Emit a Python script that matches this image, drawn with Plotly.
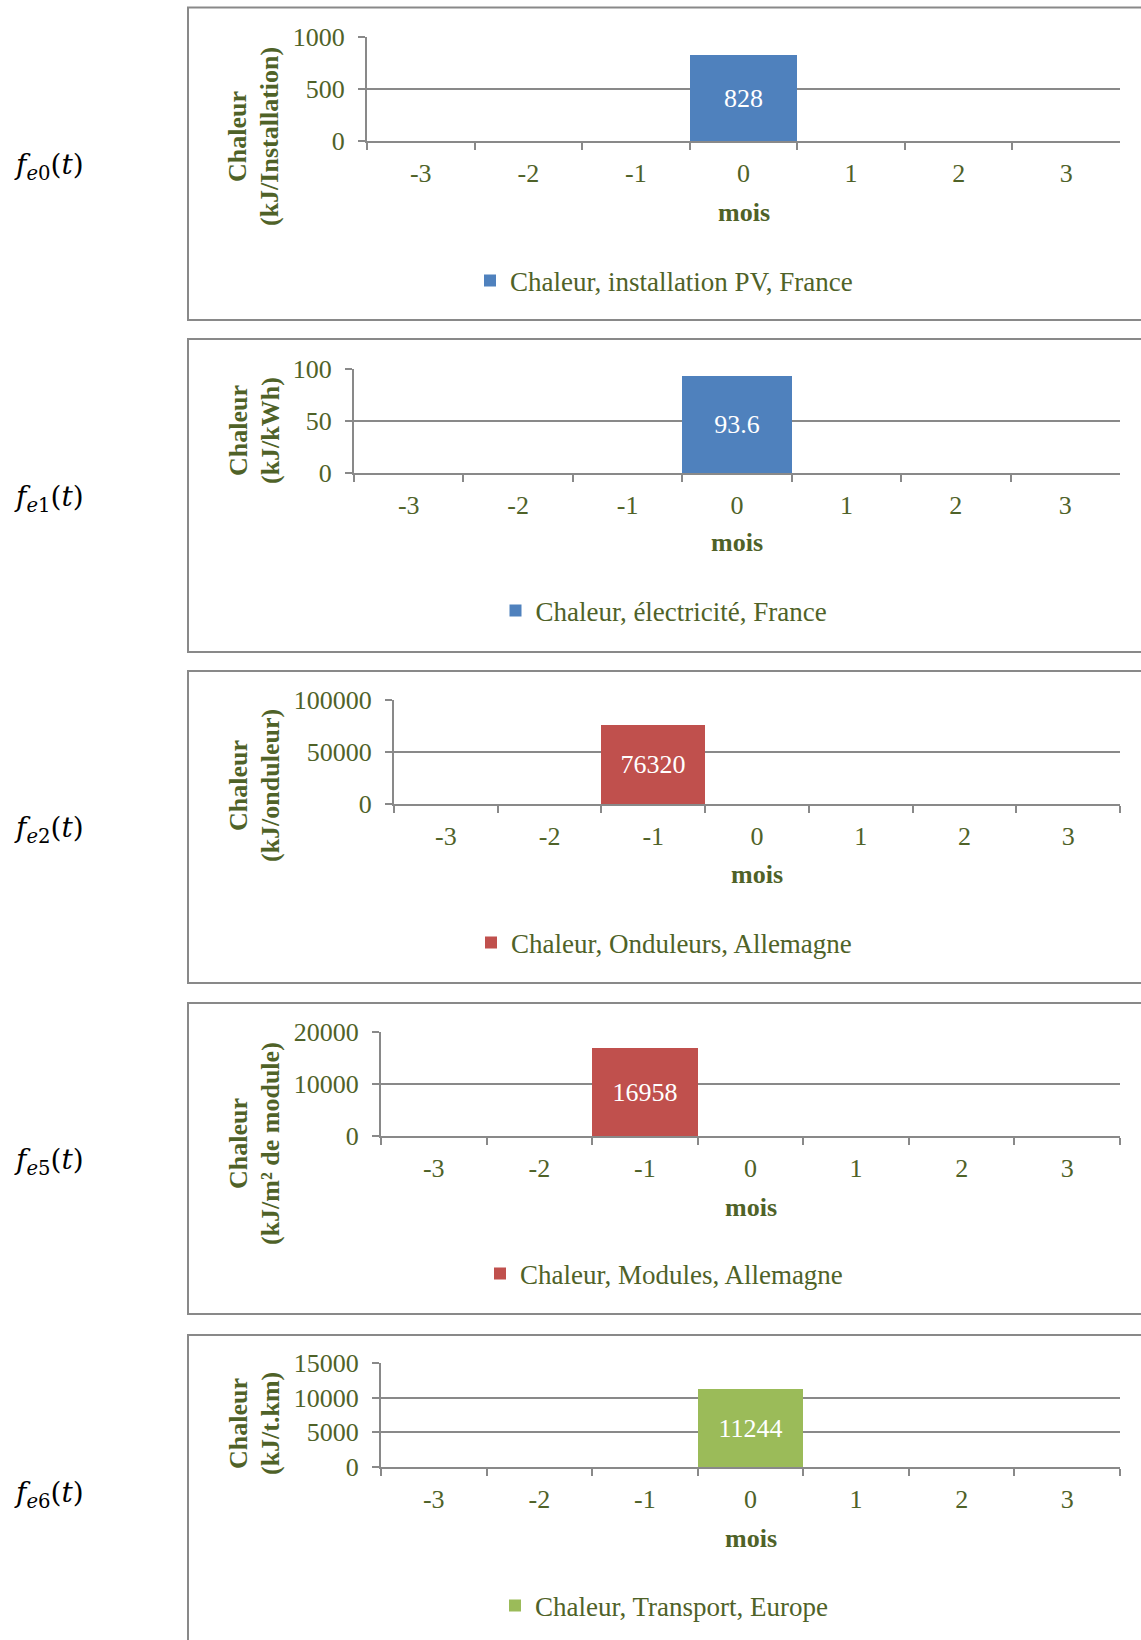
import plotly.graph_objects as go

W, H = 1141, 1640

# ---- data ----
mois = ["-3", "-2", "-1", "0", "1", "2", "3"]
serie_e0 = [None, None, None, 828, None, None, None]
serie_e1 = [None, None, None, 93.6, None, None, None]
serie_e2 = [None, None, 76320, None, None, None, None]
serie_e5 = [None, None, 16958, None, None, None, None]
serie_e6 = [None, None, None, 11244, None, None, None]
series = [serie_e0, serie_e1, serie_e2, serie_e5, serie_e6]
noms = ["Chaleur, installation PV, France",
        "Chaleur, électricité, France",
        "Chaleur, Onduleurs, Allemagne",
        "Chaleur, Modules, Allemagne",
        "Chaleur, Transport, Europe"]
unites = ["(kJ/Installation)", "(kJ/kWh)", "(kJ/onduleur)",
          "(kJ/m² de module)", "(kJ/t.km)"]
y_max = [1000, 100, 100000, 20000, 15000]
y_pas = [500, 50, 50000, 10000, 5000]
indices = ["0", "1", "2", "5", "6"]
couleurs = ["#4F81BD", "#4F81BD", "#C0504D", "#C0504D", "#9BBB59"]

# ---- layout (pixels, from top-left) ----
OLIVE = "#4F6228"
GRIS = "#898989"
FONT = "Liberation Serif"
plots = [  # x0, x1, ytop, ybottom
    (367, 1120, 37, 141),
    (354, 1120, 369, 473),
    (394, 1120, 700, 804),
    (381, 1120, 1032, 1136),
    (381, 1120, 1363, 1467),
]
boxes = [(188, 7.5, 1158, 320), (188, 339, 1158, 652), (188, 671, 1158, 983),
         (188, 1003, 1158, 1314), (188, 1335, 1158, 1700)]
mois_y = [212, 543, 874, 1207, 1538]
leg_y = [281, 611, 943, 1274, 1606]
titre_y = [137, 431, 786, 1144, 1424]
f_y = [167, 499, 829, 1161, 1494]

def px(x):
    return x / W

def py(y):
    return 1 - y / H

fig = go.Figure()
layout = dict(width=W, height=H, margin=dict(l=0, r=0, t=0, b=0, pad=0),
              paper_bgcolor="white", plot_bgcolor="white", autosize=False,
              bargap=0, showlegend=True, template="none")
annotations = []
shapes = []

for i in range(5):
    sfx = "" if i == 0 else str(i + 1)
    x0, x1, yt, yb = plots[i]
    vals = series[i]
    fig.add_trace(go.Bar(
        x=mois, y=vals,
        text=[None if v is None else str(v) for v in vals],
        textposition="inside", insidetextanchor="middle", textangle=0,
        textfont=dict(family=FONT, size=26, color="white"),
        marker=dict(color=couleurs[i], line=dict(width=0)),
        name=noms[i], xaxis="x" + sfx, yaxis="y" + sfx,
        legend="legend" + sfx, hoverinfo="skip", cliponaxis=False,
    ))
    layout["xaxis" + sfx] = dict(
        domain=[px(x0), px(x1)], anchor="y" + sfx, type="category",
        categoryorder="array", categoryarray=mois, range=[-0.5, 6.5],
        tickson="boundaries", ticks="outside", ticklen=7, tickwidth=2,
        tickcolor=GRIS, showline=True, linecolor=GRIS, linewidth=2,
        showgrid=False, zeroline=False, fixedrange=True, automargin=False,
        tickfont=dict(family=FONT, size=26, color=OLIVE),
        ticklabelstandoff=8,
    )
    layout["yaxis" + sfx] = dict(
        domain=[py(yb), py(yt)], anchor="x" + sfx,
        range=[0, y_max[i]], dtick=y_pas[i], tick0=0, tickformat="d",
        ticks="outside", ticklen=7, tickwidth=2, tickcolor=GRIS,
        showline=True, linecolor=GRIS, linewidth=2,
        showgrid=True, gridcolor=GRIS, gridwidth=2, zeroline=False,
        tickfont=dict(family=FONT, size=26, color=OLIVE),
        ticklabelstandoff=8, fixedrange=True, automargin=False,
    )
    layout["legend" + sfx] = dict(
        x=px(664), y=py(leg_y[i]), xanchor="center", yanchor="middle",
        orientation="h", bgcolor="rgba(0,0,0,0)", borderwidth=0,
        font=dict(family=FONT, size=27, color=OLIVE),
    )
    bx0, by0, bx1, by1 = boxes[i]
    shapes.append(dict(type="rect", xref="paper", yref="paper",
                       x0=px(bx0), x1=px(bx1), y0=py(by1), y1=py(by0),
                       line=dict(color=GRIS, width=2), layer="below"))
    annotations.append(dict(
        text="<b>mois</b>", xref="paper", yref="paper",
        x=px((x0 + x1) / 2), y=py(mois_y[i]), xanchor="center", yanchor="middle",
        showarrow=False, font=dict(family=FONT, size=26, color=OLIVE)))
    annotations.append(dict(
        text="<b>Chaleur</b>", xref="paper", yref="paper", textangle=-90,
        x=px(238), y=py(titre_y[i]), xanchor="center", yanchor="middle",
        showarrow=False, font=dict(family=FONT, size=26, color=OLIVE)))
    annotations.append(dict(
        text="<b>" + unites[i] + "</b>", xref="paper", yref="paper", textangle=-90,
        x=px(270), y=py(titre_y[i]), xanchor="center", yanchor="middle",
        showarrow=False, font=dict(family=FONT, size=26, color=OLIVE)))
    annotations.append(dict(
        text="<i>f</i><sub><i>e</i>" + indices[i] + "</sub>(<i>t</i>)",
        xref="paper", yref="paper", x=px(12), y=py(f_y[i]),
        xanchor="left", yanchor="middle", showarrow=False,
        font=dict(family="DejaVu Serif", size=28, color="black")))

layout["annotations"] = annotations
layout["shapes"] = shapes
fig.update_layout(**layout)
fig.write_html("out.html", config={"displayModeBar": False},
               post_script="document.body.style.margin='0px';")
